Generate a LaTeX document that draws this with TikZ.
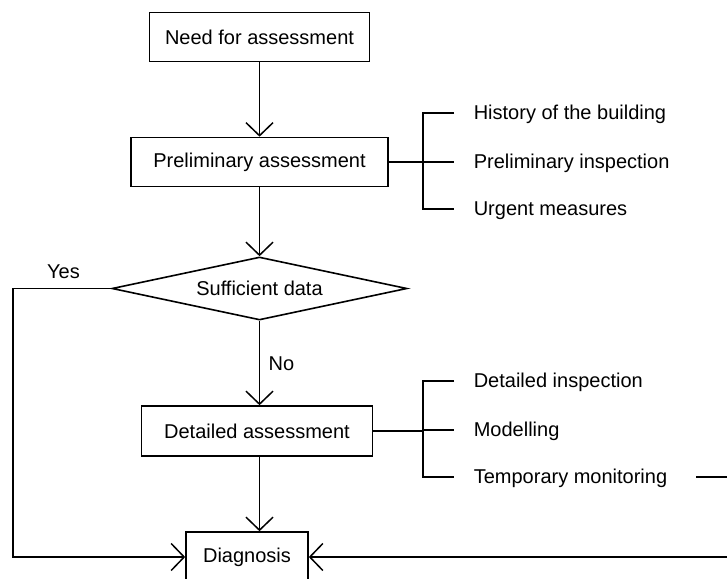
\documentclass[tikz,border=0pt]{standalone}
\usepackage{fontspec}
\setmainfont{Liberation Sans}
\usetikzlibrary{arrows.meta,shapes.geometric}
\begin{document}
\begin{tikzpicture}[x=1pt,y=-1pt, font=\fontsize{20}{24}\selectfont, line width=1.6pt,
 box/.style={draw, rectangle, inner sep=0pt, minimum height=49pt},
 arr/.style={-{Straight Barb[length=13pt,width=27pt,line width=1.5pt]}},
 lbl/.style={inner sep=0pt, anchor=west, text height=15pt, text depth=3pt}]
\useasboundingbox (0,0) rectangle (727,578);
\clip (0,0) rectangle (727,578);
\node[box, minimum width=220pt] (need) at (259.5,37) {Need for assessment};
\node[box, minimum width=257pt] (prel) at (259.5,162) {Preliminary assessment};
\node[draw, diamond, aspect=4.68, minimum width=295pt, minimum height=63pt, inner sep=0pt] (suff) at (259.5,288.5) {Sufficient data};
\node[box, minimum width=231pt, minimum height=50pt] (det) at (257,431) {Detailed assessment};
\node[box, minimum width=122pt, minimum height=50pt] (diag) at (247,557) {Diagnosis};
\node[inner sep=0pt] (yes) at (63.5,272) {Yes};
\node[inner sep=0pt] (no) at (281.5,364) {No};
% branch items
\node[lbl] (h1) at (473,113) {History of the building};
\node[lbl] (h2) at (473,162) {Preliminary inspection};
\node[lbl] (h3) at (473,209) {Urgent measures};
\node[lbl] (t1) at (473,381) {Detailed inspection};
\node[lbl] (t2) at (473,430) {Modelling};
\node[lbl] (t3) at (473,477) {Temporary monitoring};
\coordinate (b1) at (423,162);
\coordinate (b2) at (423,430);
% arrows
\draw[arr] (need) -- (prel);
\draw[arr] (prel) -- (suff);
\draw[arr] (suff.south) -- (suff.south |- det.north);
\draw[arr] (suff.south |- det.south) -- (suff.south |- diag.north);
\draw[arr] (suff.west) -- ++(-98,0) |- (diag.west);
\draw[arr] ([xshift=28pt]t3.east) -- ++(60,0) |- (diag.east);
% brackets
\draw (prel.east) -- (b1);
\draw ([xshift=-19pt]h1.west) -- (b1 |- h1.west) -- (b1 |- h3.west) -- ([xshift=-19pt]h3.west);
\draw (b1) -- ([xshift=-19pt]h2.west);
\draw (det.east) -- (det.east -| b2);
\draw ([xshift=-19pt]t1.west) -- (b2 |- t1.west) -- (b2 |- t3.west) -- ([xshift=-19pt]t3.west);
\draw (b2 |- t2.west) -- ([xshift=-19pt]t2.west);
\end{tikzpicture}
\end{document}
